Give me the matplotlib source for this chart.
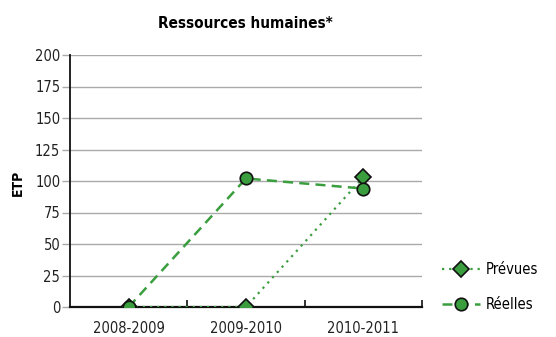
import matplotlib
matplotlib.use("Agg")
import matplotlib.pyplot as plt
import numpy as np

plt.rcParams['font.family'] = ['DejaVu Sans']
plt.rcParams['font.stretch'] = 'condensed'

annees = ['2008-2009', '2009-2010', '2010-2011']
prevues = [0, 0, 103]
reelles = [0, 102, 94]
yticks = [0, 25, 50, 75, 100, 125, 150, 175, 200]

vert = '#3a9e3f'

fig = plt.figure(figsize=(5.56, 3.37), dpi=100)
ax = fig.add_axes([70/556, 1 - 307/337, 352/556, 252/337])

x = np.arange(len(annees))
ax.plot(x, prevues, linestyle=(0, (1, 2.2)), color=vert, lw=1.6,
        marker='D', markersize=8, markerfacecolor=vert,
        markeredgecolor='#111111', markeredgewidth=1.2, label='Prévues', zorder=3)
ax.plot(x, reelles, linestyle=(0, (4, 2.5)), color=vert, lw=1.8,
        marker='o', markersize=9, markerfacecolor=vert,
        markeredgecolor='#111111', markeredgewidth=1.2, label='Réelles', zorder=4)

ax.set_xlim(-0.5, 2.5)
ax.set_ylim(0, 200)
ax.set_yticks(yticks)
ax.set_xticks(x)
ax.set_xticklabels(annees, fontsize=10.5, color='#222222')
ax.tick_params(axis='x', length=0, pad=10)
ax.tick_params(axis='y', length=6, width=1, color='#aaaaaa', pad=1,
               labelsize=10.5, labelcolor='#222222')
# petites marques entre les categories
ax.set_xticks([0.5, 1.5, 2.5], minor=True)
ax.tick_params(axis='x', which='minor', direction='in', length=5, width=1.2, color='#111111')

ax.grid(axis='y', color='#aaaaaa', lw=1)
ax.set_axisbelow(True)
for s in ['top', 'right']:
    ax.spines[s].set_visible(False)
ax.spines['left'].set_color('#111111')
ax.spines['left'].set_linewidth(1.3)
ax.spines['bottom'].set_color('#111111')
ax.spines['bottom'].set_linewidth(1.6)

fig.text(18/556, 1 - 183/337, 'ETP', rotation=90, ha='center', va='center',
         fontsize=10, fontweight='bold')
fig.text(245/556, 1 - 23/337, 'Ressources humaines*', ha='center', va='center',
         fontsize=11, fontweight='heavy')

leg = ax.legend(loc='lower left', bbox_to_anchor=(436/556, 1 - 318/337), bbox_transform=fig.transFigure,
                frameon=False, fontsize=10.5, handlelength=2.6, labelspacing=1.4,
                handletextpad=0.4, borderaxespad=0)

fig.savefig('out.png', dpi=100)
